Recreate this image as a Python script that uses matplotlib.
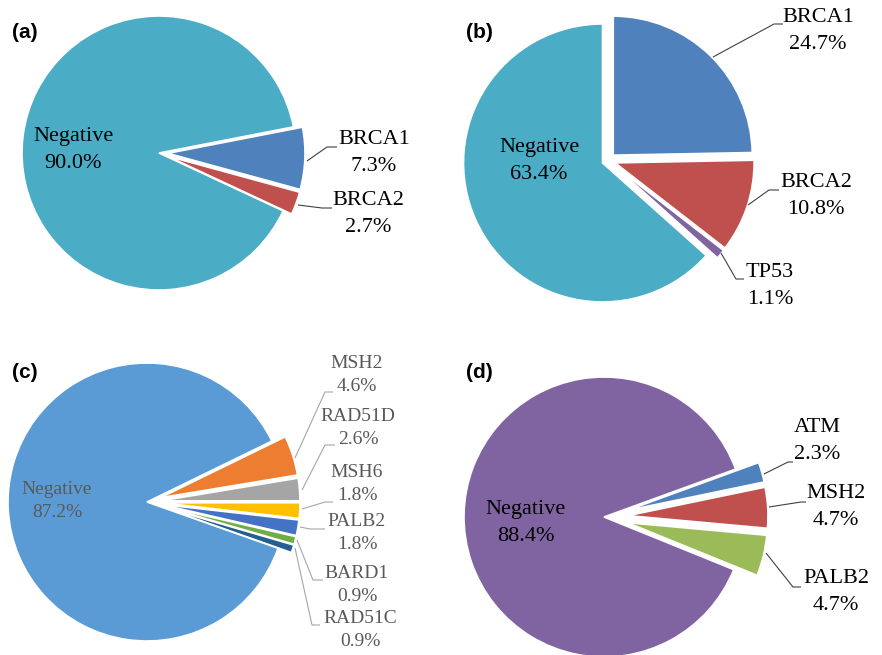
import matplotlib
matplotlib.use("Agg")
import matplotlib.pyplot as plt

# ---------------- data ----------------
a_labels = ["BRCA1", "BRCA2", "Negative"]
a_values = [7.3, 2.7, 90.0]

b_labels = ["BRCA1", "BRCA2", "TP53", "Negative"]
b_values = [24.7, 10.8, 1.1, 63.4]

c_labels = ["MSH2", "RAD51D", "MSH6", "PALB2", "BARD1", "RAD51C", "Negative"]
c_values = [4.6, 2.6, 1.8, 1.8, 0.9, 0.9, 87.2]

d_labels = ["ATM", "MSH2", "PALB2", "Negative"]
d_values = [2.3, 4.7, 4.7, 88.4]

# ---------------- styles ----------------
a_colors = ["#4F81BD", "#C0504D", "#4BACC6"]
b_colors = ["#4F81BD", "#C0504D", "#8064A2", "#4BACC6"]
c_colors = ["#ED7D31", "#A5A5A5", "#FFC000", "#4472C4", "#70AD47", "#255E91", "#5B9BD5"]
d_colors = ["#4F81BD", "#C0504D", "#9BBB59", "#8064A2"]

W, H = 882, 655
SERIF = ["Liberation Serif", "DejaVu Serif"]

fig = plt.figure(figsize=(W / 100, H / 100), dpi=100)
ax = fig.add_axes([0, 0, 1, 1])


def Y(y):
    return H - y


def draw_panel(values, labels, colors, center, radius, start, explode,
               label_pos, lines, neg_pos, fontsize, txtcolor, linecolor, ls):
    ax.pie(values, colors=colors, startangle=start, counterclock=False,
           explode=explode, center=(center[0], Y(center[1])), radius=radius,
           frame=True, wedgeprops=dict(edgecolor="white", linewidth=1.2))
    n = len(values)
    for i in range(n):
        txt = f"{labels[i]}\n{values[i]:.1f}%"
        pos = neg_pos if i == n - 1 else label_pos[i]
        ax.text(pos[0], Y(pos[1]), txt, ha="center", va="center",
                fontsize=fontsize, family=SERIF, color=txtcolor,
                linespacing=ls)
    for pts in lines:
        ax.plot([p[0] for p in pts], [Y(p[1]) for p in pts],
                color=linecolor, lw=0.8, solid_capstyle="butt")


# (a)
draw_panel(a_values, a_labels, a_colors, (159, 153), 137, 11, [9, 9, 0],
           [(374, 153), (368, 214)],
           [[(307, 161), (327, 147), (337, 147)],
            [(298, 205), (322, 208), (332, 208)]],
           (73, 150), 16, "black", "#404040", 1.55)

# (b)
draw_panel(b_values, b_labels, b_colors, (608, 160.5), 139, 90, [7.5, 7.5, 7.5, 6],
           [(818, 31), (816, 196), (770, 286)],
           [[(713, 57), (774, 24), (783, 24)],
            [(748, 205), (769, 190), (779, 190)],
            [(721, 253), (736, 279), (744, 279)]],
           (539, 161), 16, "black", "#404040", 1.55)

# (c)
draw_panel(c_values, c_labels, c_colors, (147, 502), 139, 26, [14] * 6 + [0],
           [(357, 375), (358, 428), (357, 484), (357, 533), (357, 585), (360, 630)],
           [[(295, 458), (325, 392), (333, 392)],
            [(302, 490), (325, 445), (335, 445)],
            [(302, 509), (325, 502), (333, 502)],
            [(300, 527), (310, 529), (325, 529)],
            [(297, 540), (313, 580), (323, 580)],
            [(295, 548), (312, 625), (320, 625)]],
           (57, 501), 14, "#595959", "#A6A6A6", 1.5)

# (d)
draw_panel(d_values, d_labels, d_colors, (604, 517), 140, 20, [24, 24, 24, 0],
           [(817, 441), (836, 507), (836, 592)],
           [[(764, 474), (788, 462), (793, 462)],
            [(769, 507), (801, 502), (806, 502)],
            [(766, 553), (793, 587), (801, 587)]],
           (526, 523), 16, "black", "#404040", 1.55)

# panel letters
for t, (x, y) in zip(["(a)", "(b)", "(c)", "(d)"],
                     [(12, 32), (466, 32), (12, 373), (466, 373)]):
    ax.text(x, Y(y), t, ha="left", va="center", fontsize=15,
            fontweight="bold", family=["Liberation Sans", "DejaVu Sans"])

ax.set_xlim(0, W)
ax.set_ylim(0, H)
ax.set_aspect("auto")
ax.axis("off")

fig.savefig("out.png", dpi=100, facecolor="white")
